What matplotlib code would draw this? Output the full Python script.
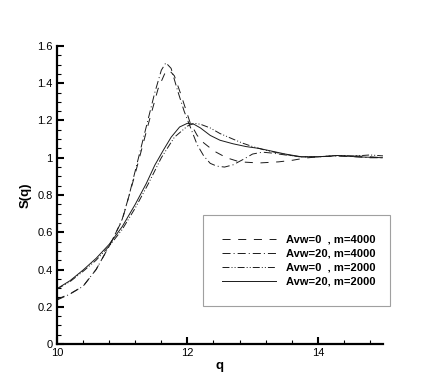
import matplotlib
matplotlib.use("Agg")
import matplotlib.pyplot as plt
from matplotlib.ticker import MultipleLocator

plt.rcParams['font.family'] = ['Liberation Sans', 'DejaVu Sans']
plt.rcParams['lines.scale_dashes'] = False

# Avw=0, m=4000 (dashed)
q_a = [10.0, 10.2, 10.4, 10.6, 10.8, 11.0, 11.2, 11.4, 11.55, 11.65, 11.72, 11.8,
       11.9, 12.04, 12.15, 12.25, 12.34, 12.44, 12.6, 12.8, 13.1, 13.4, 13.62,
       13.8, 14.0, 14.3, 14.6, 15.0]
s_a = [0.24, 0.27, 0.31, 0.4, 0.525, 0.665, 0.915, 1.18, 1.37, 1.45, 1.47, 1.44,
       1.34, 1.19, 1.12, 1.08, 1.055, 1.03, 1.0, 0.978, 0.972, 0.978, 0.987,
       0.998, 1.005, 1.01, 1.01, 1.0]

# Avw=20, m=4000 (dash-dot)
q_b = [10.0, 10.2, 10.4, 10.6, 10.8, 10.9, 11.0, 11.1, 11.2, 11.3, 11.4, 11.5,
       11.6, 11.67, 11.75, 11.85, 11.95, 12.05, 12.15, 12.25, 12.35, 12.45, 12.57,
       12.7, 12.85, 13.0, 13.15, 13.3, 13.5, 13.75, 14.0, 14.3, 14.6, 14.8, 15.0]
s_b = [0.236, 0.268, 0.31, 0.4, 0.525, 0.595, 0.67, 0.79, 0.93, 1.07, 1.21, 1.35,
       1.47, 1.51, 1.48, 1.36, 1.25, 1.16, 1.07, 1.01, 0.97, 0.955, 0.95,
       0.962, 0.99, 1.02, 1.03, 1.025, 1.015, 1.005, 1.005, 1.01, 1.005, 1.0, 1.0]

# Avw=0, m=2000 (dash-dot-dot)
q_c = [10.0, 10.2, 10.4, 10.6, 10.8, 11.0, 11.2, 11.4, 11.6, 11.8, 12.0, 12.1,
       12.2, 12.35, 12.5, 12.7, 12.85, 13.0, 13.2, 13.4, 13.7, 14.0, 14.3, 14.6,
       14.8, 15.0]
s_c = [0.295, 0.335, 0.39, 0.45, 0.525, 0.615, 0.73, 0.86, 1.0, 1.11, 1.17, 1.185,
       1.18, 1.16, 1.13, 1.1, 1.078, 1.06, 1.04, 1.025, 1.005, 1.005, 1.012, 1.01,
       1.015, 1.01]

# Avw=20, m=2000 (solid)
q_d = [10.0, 10.2, 10.4, 10.6, 10.8, 11.0, 11.2, 11.37, 11.5, 11.63, 11.75, 11.88,
       12.0, 12.1, 12.2, 12.35, 12.5, 12.7, 12.9, 13.1, 13.3, 13.5, 13.75, 14.0,
       14.3, 14.6, 15.0]
s_d = [0.297, 0.34, 0.397, 0.46, 0.535, 0.63, 0.75, 0.862, 0.96, 1.04, 1.11, 1.165,
       1.185, 1.18, 1.16, 1.12, 1.094, 1.075, 1.06, 1.05, 1.035, 1.02, 1.005, 1.005,
       1.012, 1.005, 1.0]

labels = ["Avw=0  , m=4000", "Avw=20, m=4000", "Avw=0  , m=2000", "Avw=20, m=2000"]

fig = plt.figure(figsize=(4.36, 3.88), dpi=100)
ax = fig.add_axes([57 / 436, 44 / 388, 326 / 436, 298 / 388])

lw = 0.7
col = '#1a1a1a'
ax.plot(q_a, s_a, color=col, lw=lw, dashes=(5.8, 5.5), label=labels[0])
ax.plot(q_b, s_b, color=col, lw=lw, dashes=(5.8, 2.2, 0.7, 2.2), label=labels[1])
ax.plot(q_c, s_c, color=col, lw=lw, dashes=(5.0, 1.5, 0.7, 1.5, 0.7, 1.5), label=labels[2])
ax.plot(q_d, s_d, color=col, lw=lw, label=labels[3])

ax.set_xlim(10, 15)
ax.set_ylim(0, 1.6)
ax.xaxis.set_minor_locator(MultipleLocator(0.4))
ax.yaxis.set_minor_locator(MultipleLocator(0.05))
ax.set_xticks([10, 12, 14])
ax.set_xticklabels(['10', '12', '14'])
ax.set_yticks([0, 0.2, 0.4, 0.6, 0.8, 1.0, 1.2, 1.4, 1.6])
ax.set_yticklabels(['0', '0.2', '0.4', '0.6', '0.8', '1', '1.2', '1.4', '1.6'])

for s in ['top', 'right']:
    ax.spines[s].set_visible(False)
for s in ['left', 'bottom']:
    ax.spines[s].set_linewidth(1.6)

ax.tick_params(which='major', direction='in', length=5, width=1.5, labelsize=8, pad=3)
ax.tick_params(which='minor', direction='in', length=3, width=0.8)

ax.set_xlabel('q', fontsize=9.5, fontweight='bold', labelpad=1)
ax.set_ylabel('S(q)', fontsize=9.5, fontweight='bold', labelpad=4)

leg = ax.legend(loc='lower left', bbox_to_anchor=(203 / 436, 82 / 388, 187 / 436, 90 / 388),
                bbox_transform=fig.transFigure, mode='expand', frameon=True, fancybox=False,
                prop={'weight': 'bold', 'size': 8}, handlelength=4.8, handletextpad=0.9,
                labelspacing=0.36, borderpad=1.75, borderaxespad=0)
leg.get_frame().set_edgecolor('#888888')
leg.get_frame().set_linewidth(0.8)

fig.savefig('out.png', dpi=100)
